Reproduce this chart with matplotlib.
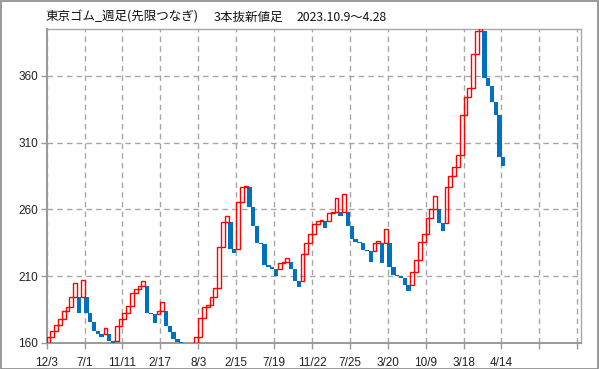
import matplotlib
matplotlib.use('Agg')
import matplotlib.pyplot as plt
from matplotlib.patches import Rectangle

# ---- data (3-line-break closes) ----
first_open = 158.0
closes = [
    164.5, 168.8, 173.3, 177.5, 184.0, 186.5, 194.5, 204.5, 182.5, 207.0,   # 0-9
    182.5, 175.7, 168.8, 166.5, 164.5, 170.8, 161.0, 159.5, 172.5, 177.5,   # 10-19
    182.5, 187.5, 197.0, 200.0, 202.5, 206.5, 182.5, 181.3, 175.0, 184.0,   # 20-29
    190.3, 172.5, 168.3, 162.5, 160.3, 157.0, 154.0, 151.0, 149.0, 164.5,   # 30-39
    178.3, 187.0, 188.3, 194.5, 200.8, 232.0, 250.3, 255.3, 230.0, 227.0,   # 40-49
    265.8, 277.0, 277.8, 261.5, 247.5, 235.0, 234.0, 218.3, 216.5, 215.3,   # 50-59
    210.3, 220.0, 220.8, 223.3, 215.3, 206.5, 202.0, 226.5, 235.0, 241.5,   # 60-69
    248.8, 251.3, 252.0, 245.8, 257.5, 258.3, 268.3, 255.3, 271.3, 247.5,   # 70-79
    237.5, 235.8, 235.0, 229.5, 229.0, 220.8, 234.5, 236.3, 219.5, 245.0,   # 80-89
    216.5, 210.8, 210.0, 208.3, 203.3, 199.0, 213.3, 222.0, 235.8, 241.5,   # 90-99
    253.8, 260.3, 270.3, 250.0, 244.0, 276.5, 285.0, 291.5, 300.8, 330.8,   # 100-109
    344.5, 350.8, 376.3, 394.0, 400.0, 358.3, 352.8, 340.3, 330.8, 299.0,   # 110-119
    292.8,                                                                  # 120
]
tick_labels = ['12/3', '7/1', '11/11', '2/17', '8/3', '2/15', '7/19',
               '11/22', '7/25', '3/20', '10/9', '3/18', '4/14']
y_ticks = [160, 210, 260, 310, 360]
title_main = '東京ゴム_週足(先限つなぎ)'
title_kind = '3本抜新値足'
title_date = '2023.10.9～4.28'

# open of each bar follows the line-break rule
opens = []
for i, c in enumerate(closes):
    if i == 0:
        o = first_open
    else:
        prev_up = closes[i - 1] > opens[i - 1]
        up = c > closes[i - 1]
        o = closes[i - 1] if up == prev_up else opens[i - 1]
    opens.append(o)

up_x, up_b, up_h = [], [], []
dn_x, dn_b, dn_h = [], [], []
for i, (o, c) in enumerate(zip(opens, closes)):
    if c > o:
        up_x.append(i + 0.5); up_b.append(o); up_h.append(c - o)
    else:
        dn_x.append(i + 0.5); dn_b.append(c); dn_h.append(o - c)

plt.rcParams['font.family'] = ['Liberation Sans', 'DejaVu Sans']
fig = plt.figure(figsize=(5.99, 3.69), dpi=100)
ax = fig.add_axes([46.7 / 599, 1 - 342.7 / 369, (581 - 46.7) / 599, (342.7 - 29.3) / 369])

ax.bar(dn_x, dn_h, bottom=dn_b, width=1.15, color='#0070C0', linewidth=0, zorder=3)
ax.bar(up_x, up_h, bottom=up_b, width=1.0, facecolor='none', edgecolor='#FF0000',
       linewidth=1.0, zorder=4)

ax.set_xlim(0, 141)
ax.set_ylim(160, 395)

xt = list(range(0, 141, 10))
ax.set_xticks(xt)
ax.set_xticklabels(tick_labels + [''] * (len(xt) - len(tick_labels)))
ax.set_yticks(y_ticks)
ax.set_yticklabels([str(v) for v in y_ticks])
ax.tick_params(axis='both', direction='out', length=4, width=1, color='#999999',
               labelsize=8.5, labelcolor='#222222')
ax.tick_params(axis='x', pad=6)
ax.tick_params(axis='y', pad=2)

ax.grid(True, color='#A6A6A6', linestyle=(0, (4, 3)), linewidth=1.0, zorder=1)
ax.set_axisbelow(True)
for s in ['left', 'bottom']:
    ax.spines[s].set_color('#999999')
    ax.spines[s].set_linewidth(1.4)
for s in ['top', 'right']:
    ax.spines[s].set_color('#A6A6A6')
    ax.spines[s].set_linewidth(1.0)

jp = ['Noto Sans CJK JP', 'DejaVu Sans']
fig.text(45 / 599, 1 - 17 / 369, title_main, fontsize=9.0, va='center', ha='left',
         family=jp, color='#111111')
fig.text(214 / 599, 1 - 17 / 369, title_kind, fontsize=9.0, va='center', ha='left',
         family=jp, color='#111111')
fig.text(297 / 599, 1 - 17.5 / 369, title_date, fontsize=8.8, va='center', ha='left',
         family=jp, color='#111111')

fig.patches.append(Rectangle((0.5 / 599, 0.5 / 369), 1 - 1.5 / 599, 1 - 1.5 / 369,
                             transform=fig.transFigure, fill=False,
                             edgecolor='#888888', linewidth=1.2))

fig.savefig('out.png', dpi=100)
